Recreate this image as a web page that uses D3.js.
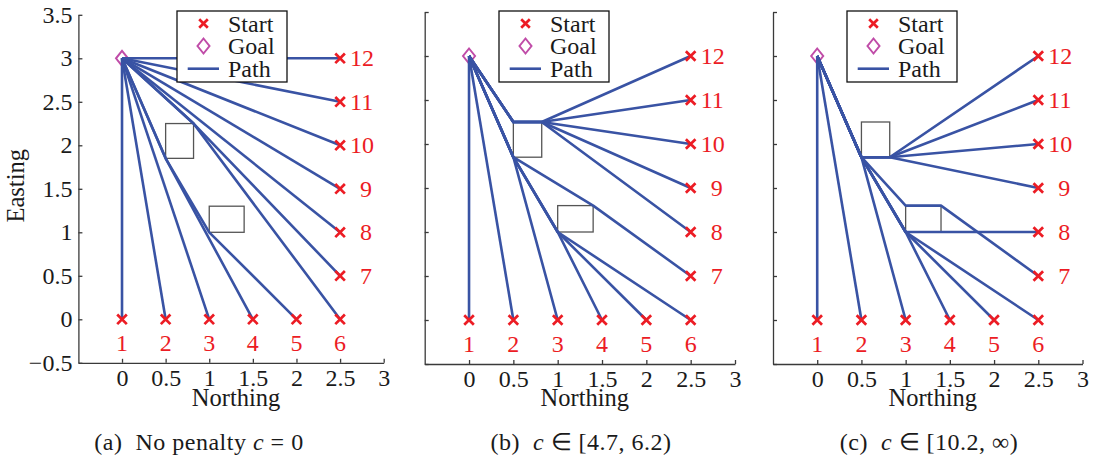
<!DOCTYPE html>
<html>
<head>
<meta charset="utf-8">
<script src="https://cdn.jsdelivr.net/npm/d3@7"></script>
<style>
body { margin: 0; background: #fff; }
svg text { font-family: "Liberation Serif", "Times New Roman", serif; }
</style>
</head>
<body>
<svg id="chart" width="1094" height="465"></svg>
<script>
// axis ticks
var xTicks = [0, 0.5, 1, 1.5, 2, 2.5, 3];
var yTicks = [-0.5, 0, 0.5, 1, 1.5, 2, 2.5, 3, 3.5];

// goal and start points (northing, easting)
var goal = [0, 3];
var starts = [[0, 0], [0.5, 0], [1, 0], [1.5, 0], [2, 0], [2.5, 0],
              [2.5, 0.5], [2.5, 1], [2.5, 1.5], [2.5, 2], [2.5, 2.5], [2.5, 3]];
var startLabels = ["1", "2", "3", "4", "5", "6", "7", "8", "9", "10", "11", "12"];

// obstacles: [xmin, xmax, ymin, ymax]
var obstacles = [[0.5, 0.82, 1.85, 2.25], [1, 1.4, 1, 1.3]];

// intermediate waypoints of the path from the goal to each start
var viaA = [[], [], [], [[0.5, 1.85]], [[0.5, 1.85], [1, 1]], [[0.82, 2.25]], [[0.82, 2.25]],
            [], [], [], [], []];
var viaB = [[], [], [[0.5, 1.85]], [[0.5, 1.85], [1, 1]], [[0.5, 1.85], [1, 1]], [[0.5, 1.85], [1, 1]],
            [[0.5, 1.85], [1.4, 1.3]],
            [[0.5, 2.25], [0.82, 2.25]], [[0.5, 2.25], [0.82, 2.25]], [[0.5, 2.25], [0.82, 2.25]],
            [[0.5, 2.25], [0.82, 2.25]], [[0.5, 2.25], [0.82, 2.25]]];
var viaC = [[], [], [[0.5, 1.85]], [[0.5, 1.85], [1, 1]], [[0.5, 1.85], [1, 1]], [[0.5, 1.85], [1, 1]],
            [[0.5, 1.85], [1, 1.3], [1.4, 1.3]], [[0.5, 1.85], [1, 1]],
            [[0.5, 1.85], [0.82, 1.85]], [[0.5, 1.85], [0.82, 1.85]],
            [[0.5, 1.85], [0.82, 1.85]], [[0.5, 1.85], [0.82, 1.85]]];

var legendLabels = ["Start", "Goal", "Path"];
var captionTags = ["(a)", "(b)", "(c)"];
var captionPre = ["No penalty ", "", ""];
var captionPost = [" = 0", " \u2208 [4.7, 6.2)", " \u2208 [10.2, \u221E)"];

var blue = "#3953a4", red = "#ec1c24", magenta = "#c04ca8";

var panels = [
    {left: 78.4, right: 383.7, bottom: 362.8, top: 14.8, legendX: 177, yLabels: true, via: viaA, capX: 199},
    {left: 424.7, right: 735, bottom: 364, top: 12, legendX: 499, yLabels: false, via: viaB, capX: 581},
    {left: 773, right: 1082.5, bottom: 364, top: 12, legendX: 847, yLabels: false, via: viaC, capX: 929}
];

var svg = d3.select("#chart");

function cross(sel, s) {
    sel.attr("d", "M" + (-s) + "," + (-s) + "L" + s + "," + s + "M" + (-s) + "," + s + "L" + s + "," + (-s))
        .attr("stroke", red).attr("stroke-width", 2.7).attr("fill", "none");
}

function diamond(sel) {
    sel.attr("d", "M0,-7.5L6,0L0,7.5L-6,0Z")
        .attr("stroke", magenta).attr("stroke-width", 2).attr("fill", "none");
}

panels.forEach(function(p, i) {
    var x = d3.scaleLinear().domain([-0.5, 3]).range([p.left, p.right]);
    var y = d3.scaleLinear().domain([-0.5, 3.5]).range([p.bottom, p.top]);
    var g = svg.append("g");

    // axes, ticks pointing inwards
    var yAxis = d3.axisLeft(y).tickValues(yTicks).tickSizeInner(-4).tickSizeOuter(0).tickPadding(6)
        .tickFormat(p.yLabels ? d3.format("") : "");
    var xAxis = d3.axisBottom(x).tickValues(xTicks).tickSizeInner(-4).tickSizeOuter(0).tickPadding(6)
        .tickFormat(d3.format(""));
    var gy = g.append("g").attr("transform", "translate(" + p.left + ",0)").call(yAxis);
    var gx = g.append("g").attr("transform", "translate(0," + p.bottom + ")").call(xAxis);
    [gx, gy].forEach(function(a) {
        a.selectAll("path, line").attr("stroke", "#3a3a3a").attr("stroke-width", 1.3);
        a.selectAll("text").attr("font-size", 24).attr("fill", "#1a1a1a")
            .attr("font-family", "Liberation Serif, Times New Roman, serif");
    });

    g.append("text")
        .attr("x", (p.left + p.right) / 2 + 5).attr("y", 406)
        .attr("text-anchor", "middle").attr("font-size", 24.5).attr("fill", "#1a1a1a")
        .text("Northing");
    if (p.yLabels) {
        g.append("text")
            .attr("transform", "translate(23.5," + ((p.top + p.bottom) / 2 - 3) + ") rotate(-90)")
            .attr("text-anchor", "middle").attr("font-size", 24.5).attr("fill", "#1a1a1a")
            .text("Easting");
    }

    // obstacles
    g.selectAll("rect.obs").data(obstacles).enter().append("rect")
        .attr("class", "obs")
        .attr("x", function(d) { return x(d[0]); })
        .attr("y", function(d) { return y(d[3]); })
        .attr("width", function(d) { return x(d[1]) - x(d[0]); })
        .attr("height", function(d) { return y(d[2]) - y(d[3]); })
        .attr("fill", "none").attr("stroke", "#555").attr("stroke-width", 1.3);

    // goal
    g.append("path").attr("transform", "translate(" + x(goal[0]) + "," + y(goal[1]) + ")").call(diamond);

    // paths
    var line = d3.line().x(function(d) { return x(d[0]); }).y(function(d) { return y(d[1]); });
    var routes = starts.map(function(s, k) { return [goal].concat(p.via[k], [s]); });
    g.selectAll("path.route").data(routes).enter().append("path")
        .attr("class", "route")
        .attr("d", line)
        .attr("fill", "none").attr("stroke", blue).attr("stroke-width", 2.6)
        .attr("stroke-linejoin", "round");

    // starts
    g.selectAll("path.start").data(starts).enter().append("path")
        .attr("class", "start")
        .attr("transform", function(d) { return "translate(" + x(d[0]) + "," + y(d[1]) + ")"; })
        .call(cross, 4.8);

    g.selectAll("text.slabel").data(starts).enter().append("text")
        .attr("class", "slabel")
        .attr("x", function(d, k) {
            if (k < 6) return x(d[0]);
            return x(d[0]) + (startLabels[k].length > 1 ? 10 : 20);
        })
        .attr("y", function(d, k) { return k < 6 ? y(d[1]) + 32 : y(d[1]) + 8; })
        .attr("text-anchor", function(d, k) { return k < 6 ? "middle" : "start"; })
        .attr("font-size", 24).attr("fill", red)
        .text(function(d, k) { return startLabels[k]; });

    // legend
    var lg = g.append("g").attr("transform", "translate(" + p.legendX + ",11)");
    lg.append("rect").attr("width", 110).attr("height", 71)
        .attr("fill", "#fff").attr("stroke", "#111").attr("stroke-width", 1.3);
    lg.append("path").attr("transform", "translate(26.5,12.5)").call(cross, 4.3);
    lg.append("path").attr("transform", "translate(26.5,35)").call(diamond);
    lg.append("line").attr("x1", 10.7).attr("x2", 42).attr("y1", 57.7).attr("y2", 57.7)
        .attr("stroke", blue).attr("stroke-width", 2.6);
    lg.selectAll("text").data(legendLabels).enter().append("text")
        .attr("x", 51).attr("y", function(d, k) { return 12.5 + k * 22.6 + 8; })
        .attr("font-size", 24).attr("fill", "#1a1a1a")
        .text(function(d) { return d; });

    // caption
    var cap = svg.append("text").attr("x", p.capX).attr("y", 450)
        .attr("text-anchor", "middle").attr("font-size", 24).attr("fill", "#1a1a1a")
        .attr("letter-spacing", 0.5);
    cap.append("tspan").text(captionTags[i] + "\u00A0\u00A0");
    if (captionPre[i]) cap.append("tspan").text(captionPre[i]);
    cap.append("tspan").attr("font-style", "italic").text("c");
    cap.append("tspan").text(captionPost[i]);
});
</script>
</body>
</html>
